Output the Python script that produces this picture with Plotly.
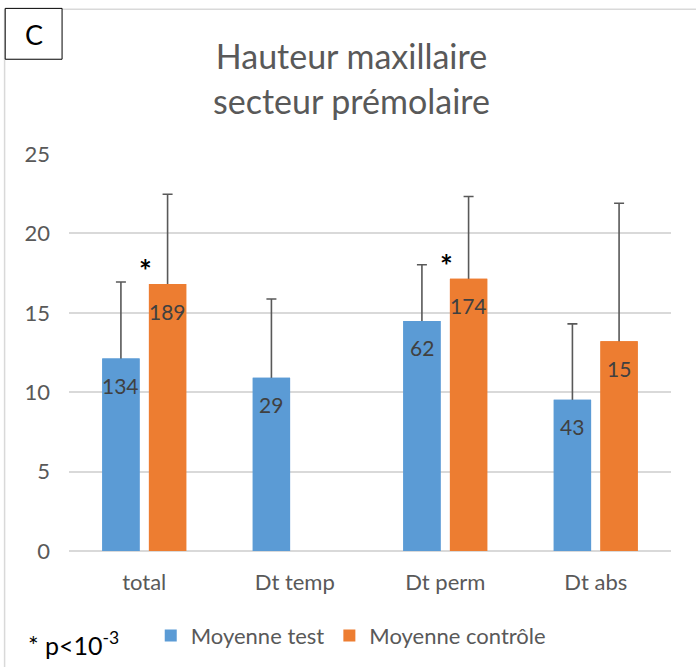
import plotly.graph_objects as go

categories = ["total", "Dt temp", "Dt perm", "Dt abs"]
test_mean = [12.13, 10.91, 14.49, 9.53]
test_sd = [4.81, 4.96, 3.54, 4.77]
test_n = [134, 29, 62, 43]
ctrl_mean = [16.81, None, 17.15, 13.21]
ctrl_sd = [5.66, None, 5.17, 8.69]
ctrl_n = [189, None, 174, 15]
significant = ["total", "Dt perm"]
y_ticks = [0, 5, 10, 15, 20, 25]

FONT = "Lato, Carlito, Calibri, sans-serif"
BLUE = "#5B9BD5"
ORANGE = "#ED7D31"
GRAY = "#595959"
HIDDEN_DROP = 0.2  # lower whisker kept just inside the bar so its cap is covered

fig = go.Figure()
# bars with upper error bars
fig.add_trace(go.Bar(
    name="Moyenne test", x=categories, y=test_mean, marker_color=BLUE,
    marker_line_width=0,
    error_y=dict(type="data", symmetric=False, array=test_sd,
                 arrayminus=[HIDDEN_DROP] * len(test_sd), color=GRAY, thickness=1.6, width=5),
))
fig.add_trace(go.Bar(
    name="Moyenne contrôle", x=categories, y=ctrl_mean, marker_color=ORANGE,
    marker_line_width=0,
    error_y=dict(type="data", symmetric=False,
                 array=[v if v is not None else 0 for v in ctrl_sd],
                 arrayminus=[HIDDEN_DROP] * len(ctrl_sd), color=GRAY, thickness=1.6, width=5),
))
# same bars redrawn on an overlaying axis pair to hide the lower caps
fig.add_trace(go.Bar(
    name="Moyenne test", x=categories, y=test_mean, marker_color=BLUE,
    marker_line_width=0, xaxis="x2", yaxis="y2", showlegend=False, hoverinfo="skip",
))
fig.add_trace(go.Bar(
    name="Moyenne contrôle", x=categories, y=ctrl_mean, marker_color=ORANGE,
    marker_line_width=0, xaxis="x2", yaxis="y2", showlegend=False, hoverinfo="skip",
))

annotations = []
# data labels (n) inside bar ends
for i, c in enumerate(categories):
    for val, n, off in ((test_mean[i], test_n[i], -0.155), (ctrl_mean[i], ctrl_n[i], 0.155)):
        if val is None:
            continue
        annotations.append(dict(
            x=i + off, xref="x", y=val, yref="y", yshift=-27, text=str(n),
            showarrow=False, font=dict(family=FONT, size=21, color="#404040"),
        ))
# significance stars
for c in significant:
    i = categories.index(c)
    annotations.append(dict(
        x=i, xref="x", y=ctrl_mean[i], yref="y", yshift=14, xshift=1, text="<b>*</b>",
        showarrow=False, font=dict(family=FONT, size=30, color="black"),
    ))

annotations.append(dict(
    x=-0.072, xref="paper", y=-0.232, yref="paper", xanchor="left", yanchor="middle",
    text="* p<10<sup>-3</sup>", showarrow=False,
    font=dict(family=FONT, size=25, color="black"),
))
annotations.append(dict(
    x=-0.0585, xref="paper", y=1.302, yref="paper", xanchor="center", yanchor="middle",
    text="C", showarrow=False, font=dict(family=FONT, size=27, color="black"),
))

shapes = [
    # outer chart border (top and left)
    dict(type="line", xref="paper", yref="paper", x0=-0.107, x1=1.1, y0=1.3645, y1=1.3645,
         line=dict(color="#d9d9d9", width=1.5)),
    dict(type="line", xref="paper", yref="paper", x0=-0.107, x1=-0.107, y0=-0.3, y1=1.3645,
         line=dict(color="#d9d9d9", width=1.5)),
    # panel letter box
    dict(type="rect", xref="paper", yref="paper", x0=-0.106, x1=-0.0115, y0=1.2387, y1=1.3668,
         line=dict(color="black", width=1), fillcolor="white"),
]

fig.update_layout(
    width=696, height=667,
    margin=dict(l=69, r=25, t=154, b=115),
    paper_bgcolor="white", plot_bgcolor="white",
    barmode="group", bargap=0.38, bargroupgap=0.2,
    title=dict(text="Hauteur maxillaire<br>secteur prémolaire", x=0.505, xanchor="center",
               y=0.896, yanchor="middle",
               font=dict(family=FONT, size=34, color=GRAY)),
    font=dict(family=FONT, size=20, color=GRAY),
    xaxis=dict(showgrid=False, showline=False, ticks="", ticklabelstandoff=16,
               tickfont=dict(family=FONT, size=22, color=GRAY)),
    yaxis=dict(range=[0, 25], tickvals=y_ticks, showgrid=True, gridcolor="#d9d9d9",
               gridwidth=1.5, zeroline=True, zerolinecolor="#d9d9d9", zerolinewidth=1.5,
               showline=False, ticks="", ticklabelstandoff=18,
               tickfont=dict(family=FONT, size=22, color=GRAY)),
    xaxis2=dict(overlaying="x", matches="x", visible=False),
    yaxis2=dict(overlaying="y", matches="y", visible=False, range=[0, 25]),
    legend=dict(orientation="h", x=0.468, xanchor="center", y=-0.21, yanchor="middle",
                font=dict(family=FONT, size=22, color=GRAY), itemwidth=30,
                bgcolor="rgba(0,0,0,0)"),
    annotations=annotations,
    shapes=shapes,
)

fig.write_html("out.html", config={"displayModeBar": False},
               post_script="document.body.style.margin='0';")
